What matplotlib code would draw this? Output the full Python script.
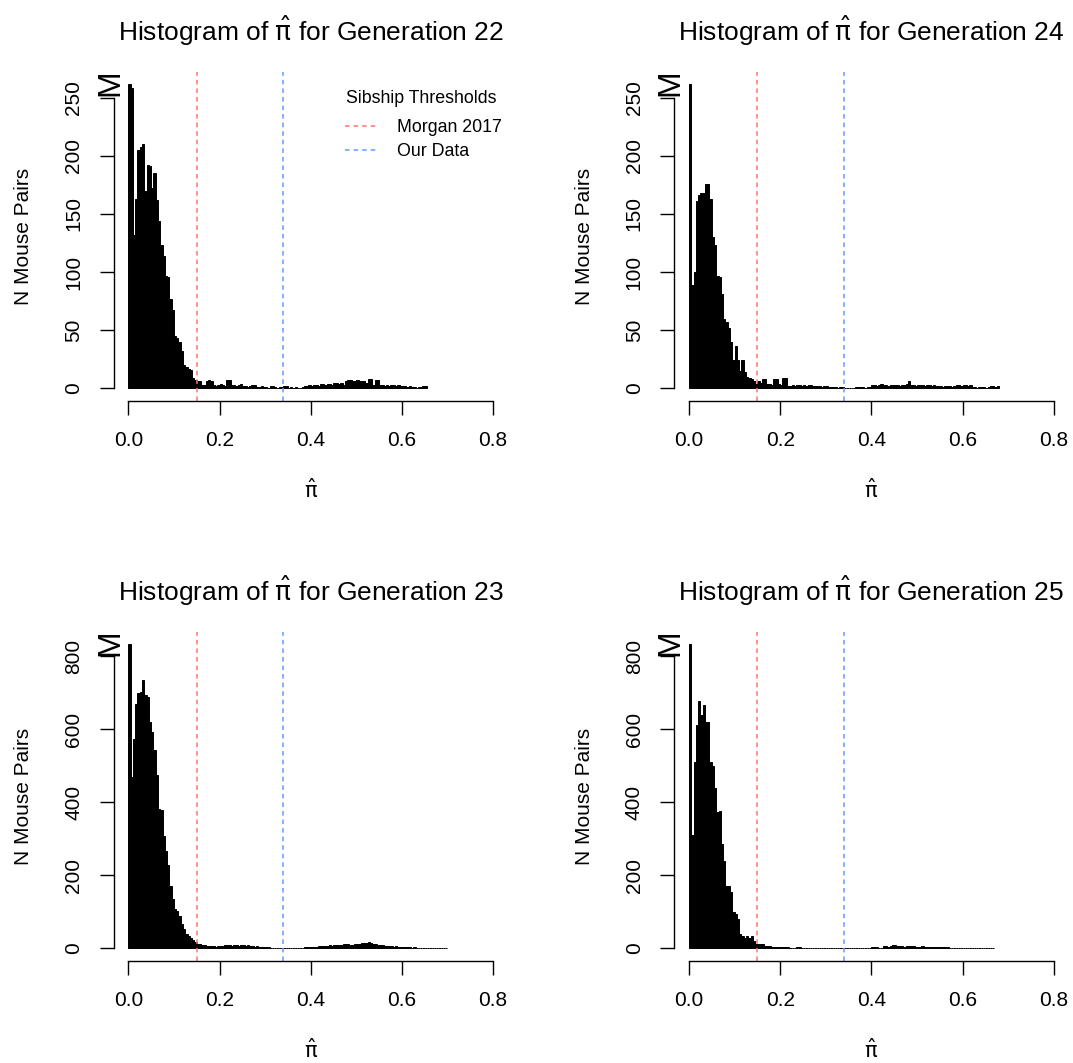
import matplotlib
matplotlib.use("Agg")
import matplotlib.pyplot as plt
import numpy as np

plt.rcParams['font.family'] = ['Liberation Sans', 'DejaVu Sans']

bin_width = 0.005
morgan_cut = 0.15
our_cut = 0.34

gen22 = [262, 258, 132, 163, 205, 208, 210, 170, 192, 191, 172, 185, 162, 144, 123,
         114, 97, 96, 77, 67, 45, 43, 40, 32, 20, 18, 17, 16, 9, 7,
         6, 6, 3, 3, 6, 7, 6, 3, 2, 3, 4, 3, 2, 7, 7, 3, 3, 2, 3, 4,
         2, 2, 1, 2, 3, 3, 1, 1, 2, 1, 1, 0, 2, 2, 1, 0, 1, 1, 2, 2,
         0, 1, 0, 1, 0, 0, 1, 2, 2, 3, 2, 3, 3, 2, 4, 4, 3, 4, 4, 3,
         5, 5, 4, 5, 3, 6, 7, 7, 6, 6, 7, 6, 6, 6, 5, 8, 8, 3, 7, 7,
         3, 3, 2, 3, 2, 3, 3, 2, 3, 2, 2, 2, 1, 2, 1, 1, 0, 1, 1, 2, 2]

gen24 = [262, 89, 100, 161, 166, 168, 168, 176, 176, 163, 130, 123, 97, 96, 81,
         60, 57, 52, 40, 24, 36, 24, 15, 24, 14, 10, 9, 8, 6, 4,
         6, 5, 8, 8, 4, 4, 3, 8, 8, 4, 3, 9, 9, 2, 2,
         3, 2, 3, 3, 2, 3, 2, 3, 3, 2, 2, 2, 2, 1, 2, 2, 1,
         1, 1, 1, 0, 1, 1, 0, 0, 0, 0, 0, 1, 1, 1, 1, 0, 1, 1,
         3, 3, 2, 3, 4, 3, 3, 2, 3, 3, 3, 3, 2, 3, 3, 4, 6,
         3, 3, 2, 3, 3, 3, 2, 3, 3, 2, 3, 2, 2, 2, 1, 2, 2, 2, 1, 2,
         3, 3, 2, 3, 3, 2, 3, 1, 1, 0, 1, 1, 1, 0, 1, 2, 2, 1, 2]

gen23 = [835, 469, 575, 671, 700, 704, 736, 694, 690, 620, 594, 543, 474, 383, 378,
         309, 268, 228, 172, 135, 109, 103, 89, 66, 52, 38, 33, 29, 24, 17,
         13, 12, 9, 9, 6, 6, 7, 6, 5, 6, 6, 7, 9, 9,
         8, 7, 8, 8, 7, 8, 8, 7, 8, 6, 6, 5, 6, 4, 4, 5, 4, 4,
         2, 2, 1, 2, 2, 2, 1, 2, 2, 1, 2, 2, 2, 1,
         2, 3, 4, 4, 3, 4, 4, 6, 7, 7, 6, 7, 8, 7, 9, 8, 9, 9,
         12, 12, 11, 10, 10, 13, 13, 12, 15, 15, 16, 17, 15, 12, 12,
         10, 10, 9, 7, 7, 6, 6, 5, 6, 5, 3, 4, 3, 3, 3, 2, 3, 2, 2, 1,
         1, 0, 1, 0, 1, 1, 0, 1, 0, 0, 1]

gen25 = [834, 309, 511, 612, 676, 640, 667, 620, 620, 511, 498, 438, 374, 377, 287,
         240, 172, 170, 153, 100, 94, 80, 38, 35, 29, 33, 29, 33, 20, 11,
         13, 12, 13, 6, 6, 7, 4, 3, 4, 4, 3, 4, 3, 4, 2, 2, 2, 4, 3,
         1, 0, 1, 1, 0, 1, 0, 0, 1, 0, 0, 1, 0,
         0, 0, 1, 0, 0, 0, 0, 0, 0, 1,
         2, 2, 1, 2, 2, 1, 2, 2, 5, 4, 4, 2, 2, 6, 6, 5, 6, 9, 9, 7,
         6, 6, 5, 6, 6, 7, 6, 5, 5, 5, 6, 5, 5,
         4, 4, 4, 3, 4, 4, 4, 4, 4, 1, 2, 1, 1, 0, 1, 1,
         0, 1, 0, 0, 1, 0, 0, 0, 1, 0, 0, 0, 1]

generations = [22, 24, 23, 25]
panel_counts = [gen22, gen24, gen23, gen25]
panel_yticks = [[0, 50, 100, 150, 200, 250], [0, 50, 100, 150, 200, 250],
                [0, 200, 400, 600, 800], [0, 200, 400, 600, 800]]
xticks = [0.0, 0.2, 0.4, 0.6, 0.8]
legend_labels = ['Morgan 2017', 'Our Data']

red = '#F8766D'
blue = '#619CFF'
pihat = '$\\hat{\\mathrm{\\pi}}$'

fig = plt.figure(figsize=(10.73, 10.63), dpi=100)
lefts = [0.106, 0.6285, 0.106, 0.6285]
bottoms = [0.6232, 0.6232, 0.0964, 0.0964]
w, h = 0.3671, 0.3095

for i in range(4):
    ax = fig.add_axes([lefts[i], bottoms[i], w, h])
    counts = np.array(panel_counts[i])
    edges = np.arange(len(counts)) * bin_width
    ax.bar(edges, counts, width=bin_width, align='edge', color='black',
           edgecolor='black', linewidth=0.7)

    l1 = ax.axvline(morgan_cut, color=red, lw=1.1, ls=(0, (3, 2.6)), label=legend_labels[0])
    l2 = ax.axvline(our_cut, color=blue, lw=1.1, ls=(0, (3, 2.6)), label=legend_labels[1])

    ymax = counts.max()
    ax.set_xlim(-0.032, 0.832)
    ax.set_ylim(-0.04 * ymax, 1.04 * ymax)

    for s in ['top', 'right']:
        ax.spines[s].set_visible(False)
    ax.spines['left'].set_bounds(0, panel_yticks[i][-1])
    ax.spines['bottom'].set_bounds(0, 0.8)
    for s in ['left', 'bottom']:
        ax.spines[s].set_linewidth(1.0)

    ax.set_xticks(xticks)
    ax.set_xticklabels(['0.0', '0.2', '0.4', '0.6', '0.8'])
    ax.set_yticks(panel_yticks[i])
    ax.tick_params(length=10, width=1.0, pad=12, labelsize=15)
    for lab in ax.get_yticklabels():
        lab.set_rotation(90)
        lab.set_va('center')

    ax.text(0.5, 1.124, 'Histogram of %s for Generation %d' % (pihat, generations[i]),
            transform=ax.transAxes, ha='center', va='center', fontsize=19)
    ax.text(0.5, -0.272, pihat, transform=ax.transAxes,
            ha='center', va='center', fontsize=15)
    ax.text(-0.228, 0.5, 'N Mouse Pairs', transform=ax.transAxes, rotation=90,
            ha='center', va='center', fontsize=15)
    ax.text(-0.0094, 0.965, 'M', transform=ax.transAxes, rotation=90,
            ha='center', va='center', fontsize=23, clip_on=False)

    if i == 0:
        ax.text(0.780, 0.918, 'Sibship Thresholds', transform=ax.transAxes,
                ha='center', va='center', fontsize=12.8)
        ax.legend(handles=[l1, l2], frameon=False, loc='upper right',
                  bbox_to_anchor=(0.985, 0.856), borderaxespad=0, borderpad=0,
                  fontsize=12.8, handlelength=1.9, handletextpad=1.0,
                  labelspacing=0.42)

fig.savefig('out.png', dpi=100)
